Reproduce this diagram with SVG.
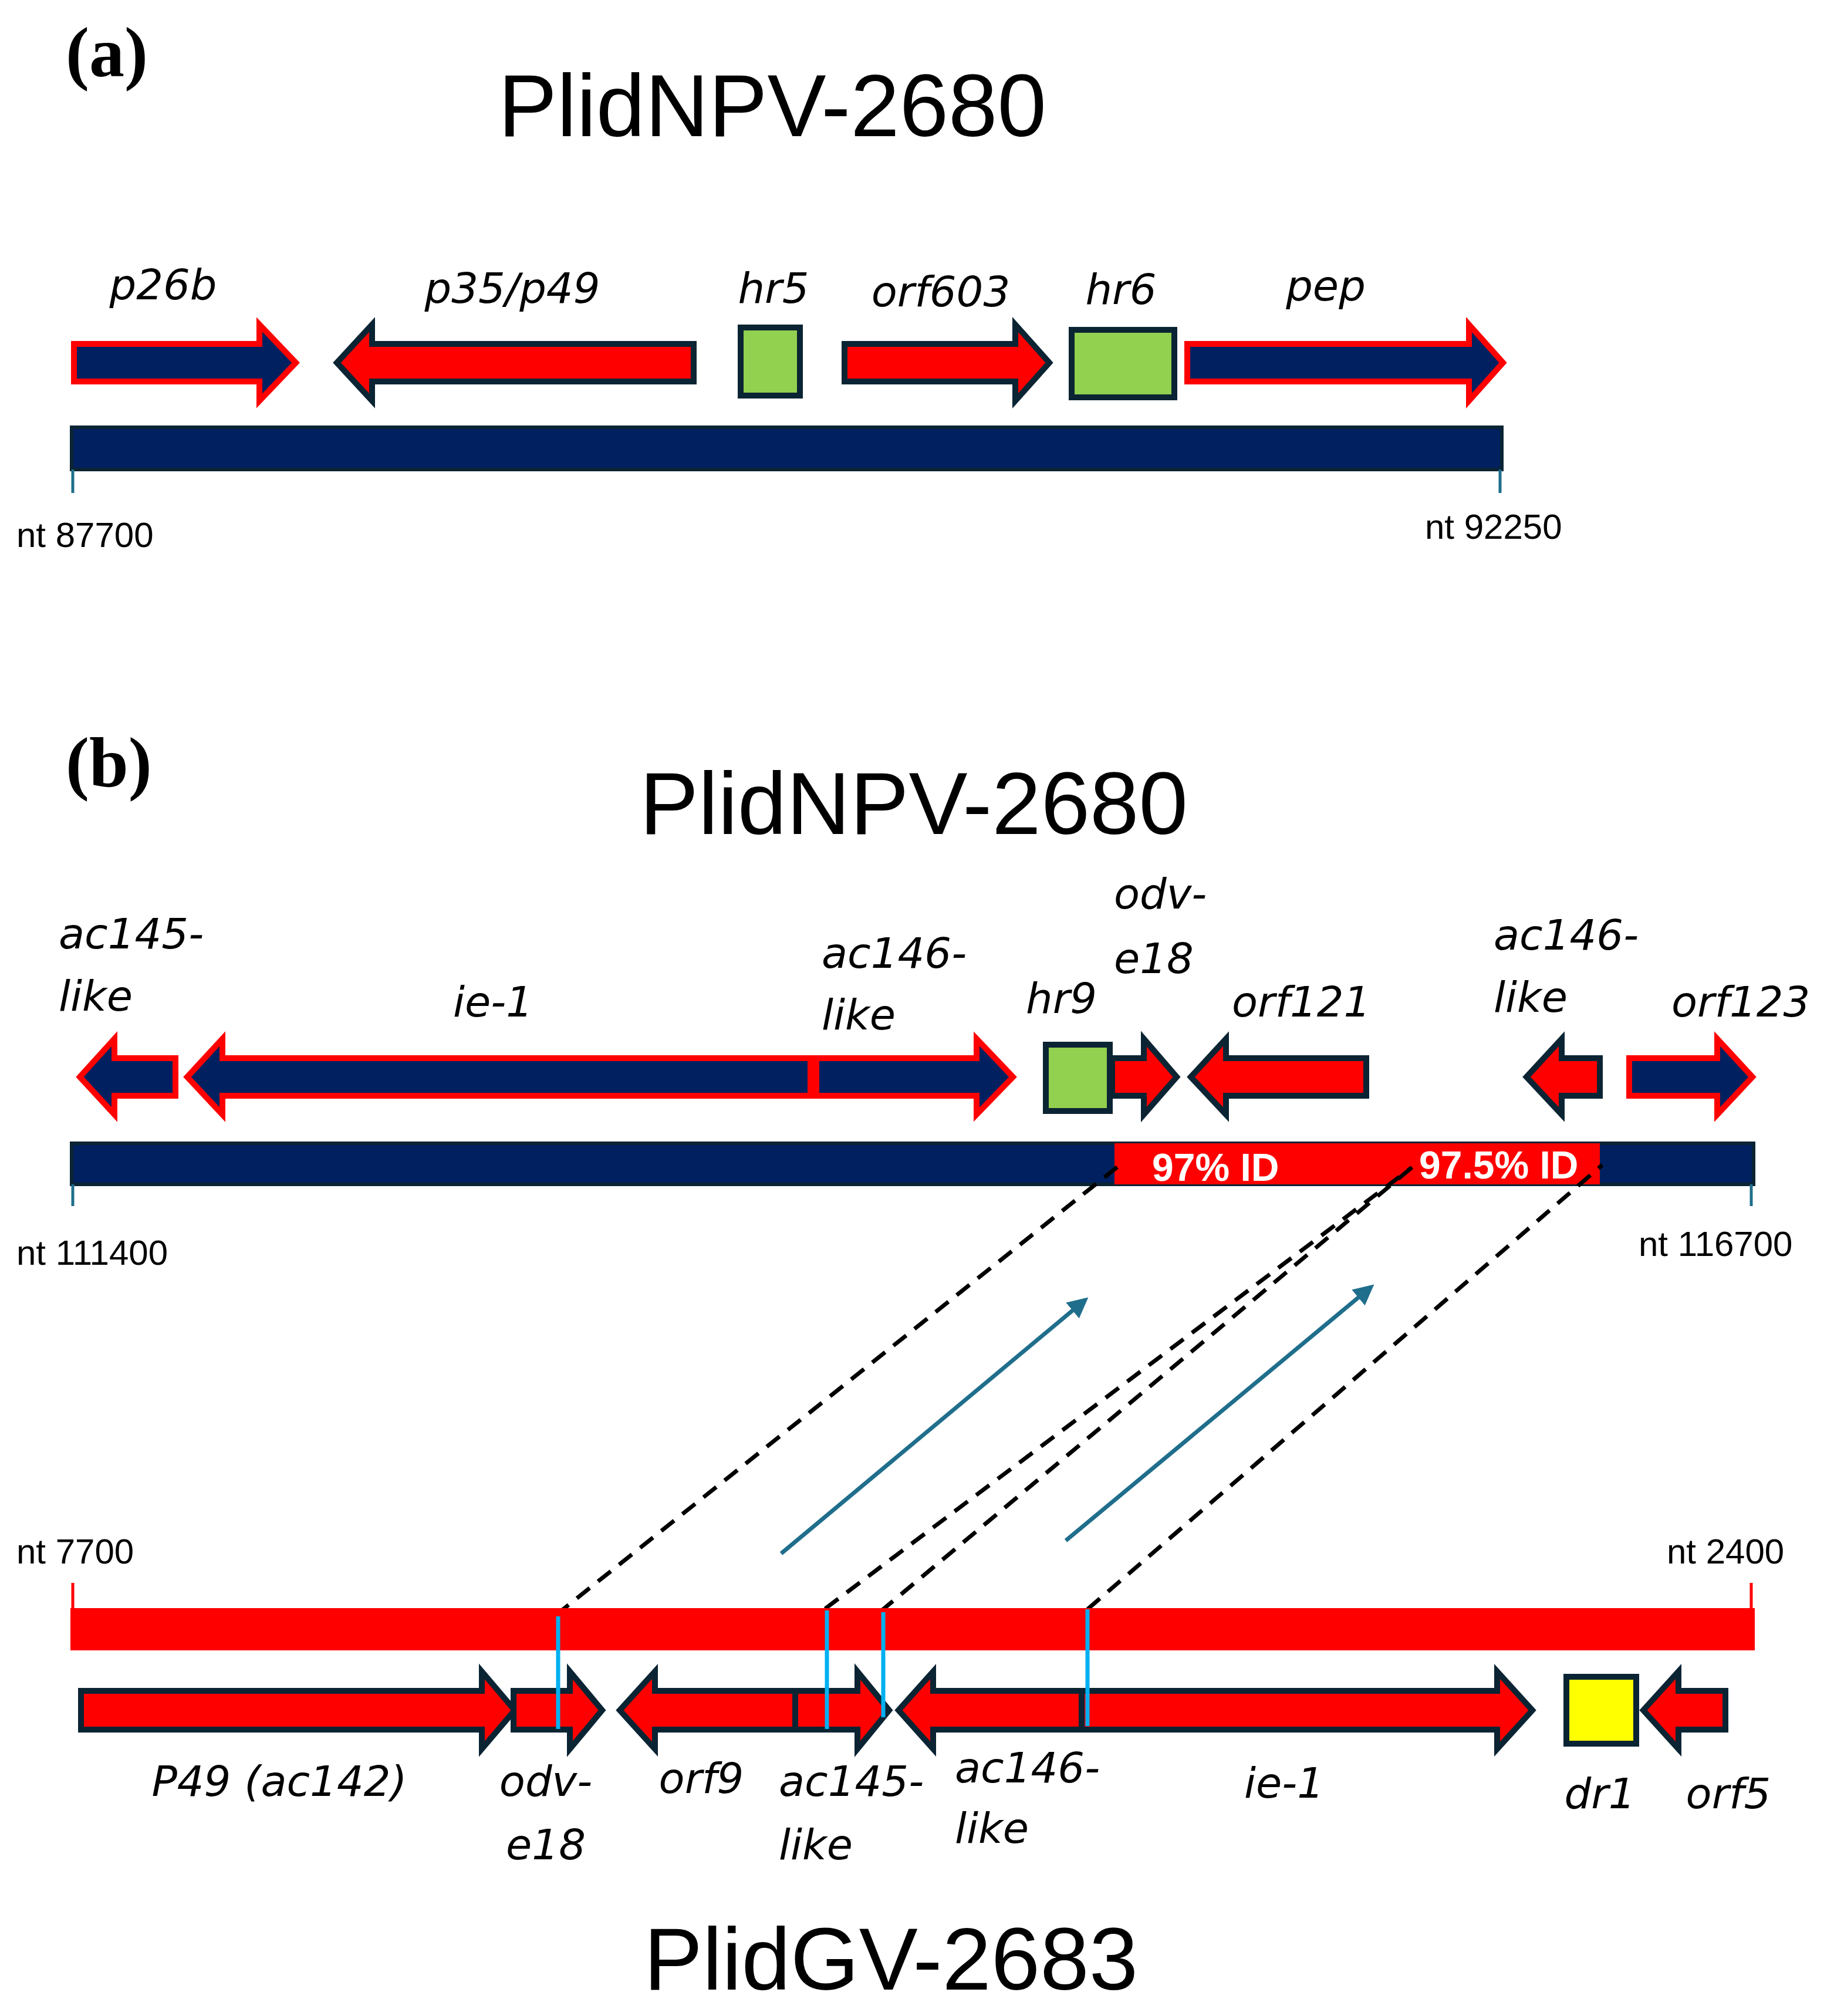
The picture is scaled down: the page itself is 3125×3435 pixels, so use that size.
<svg xmlns="http://www.w3.org/2000/svg" width="3125" height="3435" viewBox="0 0 3125 3435">
<style>
.nr{fill:#002060;stroke:#FF0000;stroke-width:10;stroke-linejoin:miter}
.rd{fill:#FF0000;stroke:#0B2433;stroke-width:10;stroke-linejoin:miter}
.gb{fill:#92D050;stroke:#0B2433;stroke-width:10}
.lb{font-family:"DejaVu Sans",sans-serif;font-style:italic;font-size:72px;fill:#000}
.nt{font-family:"Liberation Sans",Arial,sans-serif;font-size:60px;fill:#000}
.ti{font-family:"Liberation Sans",Arial,sans-serif;font-size:150px;fill:#000;text-anchor:middle}
.pl{font-family:"Liberation Serif","Times New Roman",serif;font-weight:bold;font-size:120px;fill:#000}
.id{font-family:"Liberation Sans",Arial,sans-serif;font-weight:bold;font-size:66px;fill:#fff}
.tk{stroke:#1F6E8C;stroke-width:5}
.ds{stroke:#000;stroke-width:7;stroke-dasharray:28 18;fill:none}
.cy{stroke:#00B0F0;stroke-width:7}
.bl{stroke:#1F6E8C;stroke-width:7;fill:none}
</style>
<defs>
<marker id="ah" viewBox="0 0 10 10" refX="8" refY="5" markerWidth="5" markerHeight="5" orient="auto"><path d="M0 0 L10 5 L0 10 Z" fill="#1F6E8C"/></marker>
</defs>
<rect width="3125" height="3435" fill="#fff"/>

<g id="panel-a">
<text class="pl" x="112" y="130">(a)</text>
<text class="ti" x="1316" y="232">PlidNPV-2680</text>
<g id="a-p26b"><path class="nr" d="M126 586 L442 586 L442 553 L504 618 L442 683 L442 650 L126 650Z"/><text class="lb" x="278" y="510" text-anchor="middle">p26b</text></g>
<g id="a-p35"><path class="rd" d="M1182 586 L634 586 L634 553 L574 618 L634 683 L634 650 L1182 650Z"/><text class="lb" x="873" y="516" text-anchor="middle">p35/p49</text></g>
<g id="a-hr5"><rect class="gb" x="1262" y="558" width="101" height="116"/><text class="lb" x="1318" y="516" text-anchor="middle">hr5</text></g>
<g id="a-orf603"><path class="rd" d="M1439 586 L1730 586 L1730 553 L1788 618 L1730 683 L1730 650 L1439 650Z"/><text class="lb" x="1603" y="522" text-anchor="middle">orf603</text></g>
<g id="a-hr6"><rect class="gb" x="1826" y="562" width="175" height="115"/><text class="lb" x="1910" y="518" text-anchor="middle">hr6</text></g>
<g id="a-pep"><path class="nr" d="M2023 586 L2503 586 L2503 553 L2561 618 L2503 683 L2503 650 L2023 650Z"/><text class="lb" x="2259" y="512" text-anchor="middle">pep</text></g>
<g id="a-bar"><rect x="122" y="728" width="2437" height="72" fill="#002060" stroke="#0B2433" stroke-width="6"/>
<line class="tk" x1="124" y1="800" x2="124" y2="840"/><line class="tk" x1="2556" y1="800" x2="2556" y2="840"/>
<text class="nt" x="28" y="932">nt 87700</text><text class="nt" x="2428" y="918">nt 92250</text></g>
</g>

<g id="panel-b-top">
<text class="pl" x="112" y="1340">(b)</text>
<text class="ti" x="1557" y="1421">PlidNPV-2680</text>
<g id="b-ac145"><path class="nr" d="M299 1803 L195 1803 L195 1770 L136 1835 L195 1899 L195 1867 L299 1867Z"/><text class="lb" x="100" y="1616">ac145-</text><text class="lb" x="100" y="1722">like</text></g>
<g id="b-ie1"><path class="nr" d="M1381 1803 L379 1803 L379 1770 L319 1835 L379 1899 L379 1867 L1381 1867Z"/><text class="lb" x="840" y="1732" text-anchor="middle">ie-1</text></g>
<g id="b-ac146a"><path class="nr" d="M1391 1803 L1664 1803 L1664 1770 L1726 1835 L1664 1899 L1664 1867 L1391 1867Z"/><text class="lb" x="1400" y="1649">ac146-</text><text class="lb" x="1400" y="1754">like</text></g>
<g id="b-hr9"><rect class="gb" x="1782" y="1780" width="109" height="113"/><text class="lb" x="1748" y="1726">hr9</text></g>
<g id="b-odve18"><path class="rd" d="M1895 1803 L1949 1803 L1949 1770 L2005 1835 L1949 1899 L1949 1867 L1895 1867Z"/><text class="lb" x="1898" y="1548">odv-</text><text class="lb" x="1898" y="1658">e18</text></g>
<g id="b-orf121"><path class="rd" d="M2328 1803 L2089 1803 L2089 1770 L2029 1835 L2089 1899 L2089 1867 L2328 1867Z"/><text class="lb" x="2099" y="1732">orf121</text></g>
<g id="b-ac146b"><path class="rd" d="M2726 1803 L2661 1803 L2661 1770 L2601 1835 L2661 1899 L2661 1867 L2726 1867Z"/><text class="lb" x="2545" y="1618">ac146-</text><text class="lb" x="2545" y="1724">like</text></g>
<g id="b-orf123"><path class="nr" d="M2776 1803 L2926 1803 L2926 1770 L2986 1835 L2926 1899 L2926 1867 L2776 1867Z"/><text class="lb" x="2848" y="1732">orf123</text></g>
<g id="b-bar"><rect x="122" y="1948" width="2866" height="70" fill="#002060" stroke="#0B2433" stroke-width="6"/>
<rect x="1899" y="1948" width="827" height="70" fill="#FF0000"/>
<text class="id" x="1963" y="2012">97% ID</text><text class="id" x="2418" y="2008">97.5% ID</text>
<line class="tk" x1="124" y1="2018" x2="124" y2="2055"/><line class="tk" x1="2984" y1="2018" x2="2984" y2="2055"/>
<text class="nt" x="28" y="2155">nt 111400</text><text class="nt" x="2792" y="2140">nt 116700</text></g>
</g>

<g id="connectors">
<line class="ds" x1="947" y1="2752" x2="1908" y2="1985"/>
<line class="ds" x1="1406" y1="2741" x2="2406" y2="1989"/>
<line class="ds" x1="1500" y1="2746" x2="2406" y2="1989"/>
<line class="ds" x1="1853" y1="2742" x2="2730" y2="1985"/>
<line class="bl" x1="1331" y1="2647" x2="1849" y2="2215" marker-end="url(#ah)"/>
<line class="bl" x1="1816" y1="2625" x2="2336" y2="2193" marker-end="url(#ah)"/>
</g>

<g id="panel-b-bottom">
<g id="c-bar"><rect x="120" y="2740" width="2870" height="72" fill="#FF0000"/>
<line stroke="#FF0000" stroke-width="5" x1="124" y1="2697" x2="124" y2="2740"/><line stroke="#FF0000" stroke-width="5" x1="2984" y1="2697" x2="2984" y2="2740"/>
<text class="nt" x="28" y="2664">nt 7700</text><text class="nt" x="2840" y="2664">nt 2400</text></g>
<g id="c-p49"><path class="rd" d="M138 2881 L821 2881 L821 2848 L877 2914 L821 2980 L821 2947 L138 2947Z"/><text class="lb" x="476" y="3060" text-anchor="middle">P49 (ac142)</text></g>
<g id="c-odve18"><path class="rd" d="M875 2881 L971 2881 L971 2848 L1026 2914 L971 2980 L971 2947 L875 2947Z"/><text class="lb" x="930" y="3060" text-anchor="middle">odv-</text><text class="lb" x="930" y="3168" text-anchor="middle">e18</text></g>
<g id="c-orf9"><path class="rd" d="M1355 2881 L1116 2881 L1116 2848 L1056 2914 L1116 2980 L1116 2947 L1355 2947Z"/><text class="lb" x="1195" y="3055" text-anchor="middle">orf9</text></g>
<g id="c-ac145"><path class="rd" d="M1355 2881 L1461 2881 L1461 2848 L1515 2914 L1461 2980 L1461 2947 L1355 2947Z"/><text class="lb" x="1327" y="3060">ac145-</text><text class="lb" x="1327" y="3168">like</text></g>
<g id="c-ac146"><path class="rd" d="M1843 2881 L1590 2881 L1590 2848 L1531 2914 L1590 2980 L1590 2947 L1843 2947Z"/><text class="lb" x="1627" y="3037">ac146-</text><text class="lb" x="1627" y="3140">like</text></g>
<g id="c-ie1"><path class="rd" d="M1843 2881 L2551 2881 L2551 2848 L2611 2914 L2551 2980 L2551 2947 L1843 2947Z"/><text class="lb" x="2188" y="3063" text-anchor="middle">ie-1</text></g>
<g id="c-dr1"><rect x="2669" y="2857" width="119" height="114" fill="#FFFF00" stroke="#0B2433" stroke-width="10"/><text class="lb" x="2726" y="3081" text-anchor="middle">dr1</text></g>
<g id="c-orf5"><path class="rd" d="M2940 2881 L2860 2881 L2860 2848 L2800 2914 L2860 2980 L2860 2947 L2940 2947Z"/><text class="lb" x="2945" y="3081" text-anchor="middle">orf5</text></g>
<g id="c-marks">
<line class="cy" x1="951" y1="2754" x2="951" y2="2946"/>
<line class="cy" x1="1409" y1="2744" x2="1409" y2="2946"/>
<line class="cy" x1="1505" y1="2747" x2="1505" y2="2926"/>
<line class="cy" x1="1853" y1="2742" x2="1853" y2="2941"/>
</g>
<text class="ti" x="1518" y="3390">PlidGV-2683</text>
</g>
</svg>
